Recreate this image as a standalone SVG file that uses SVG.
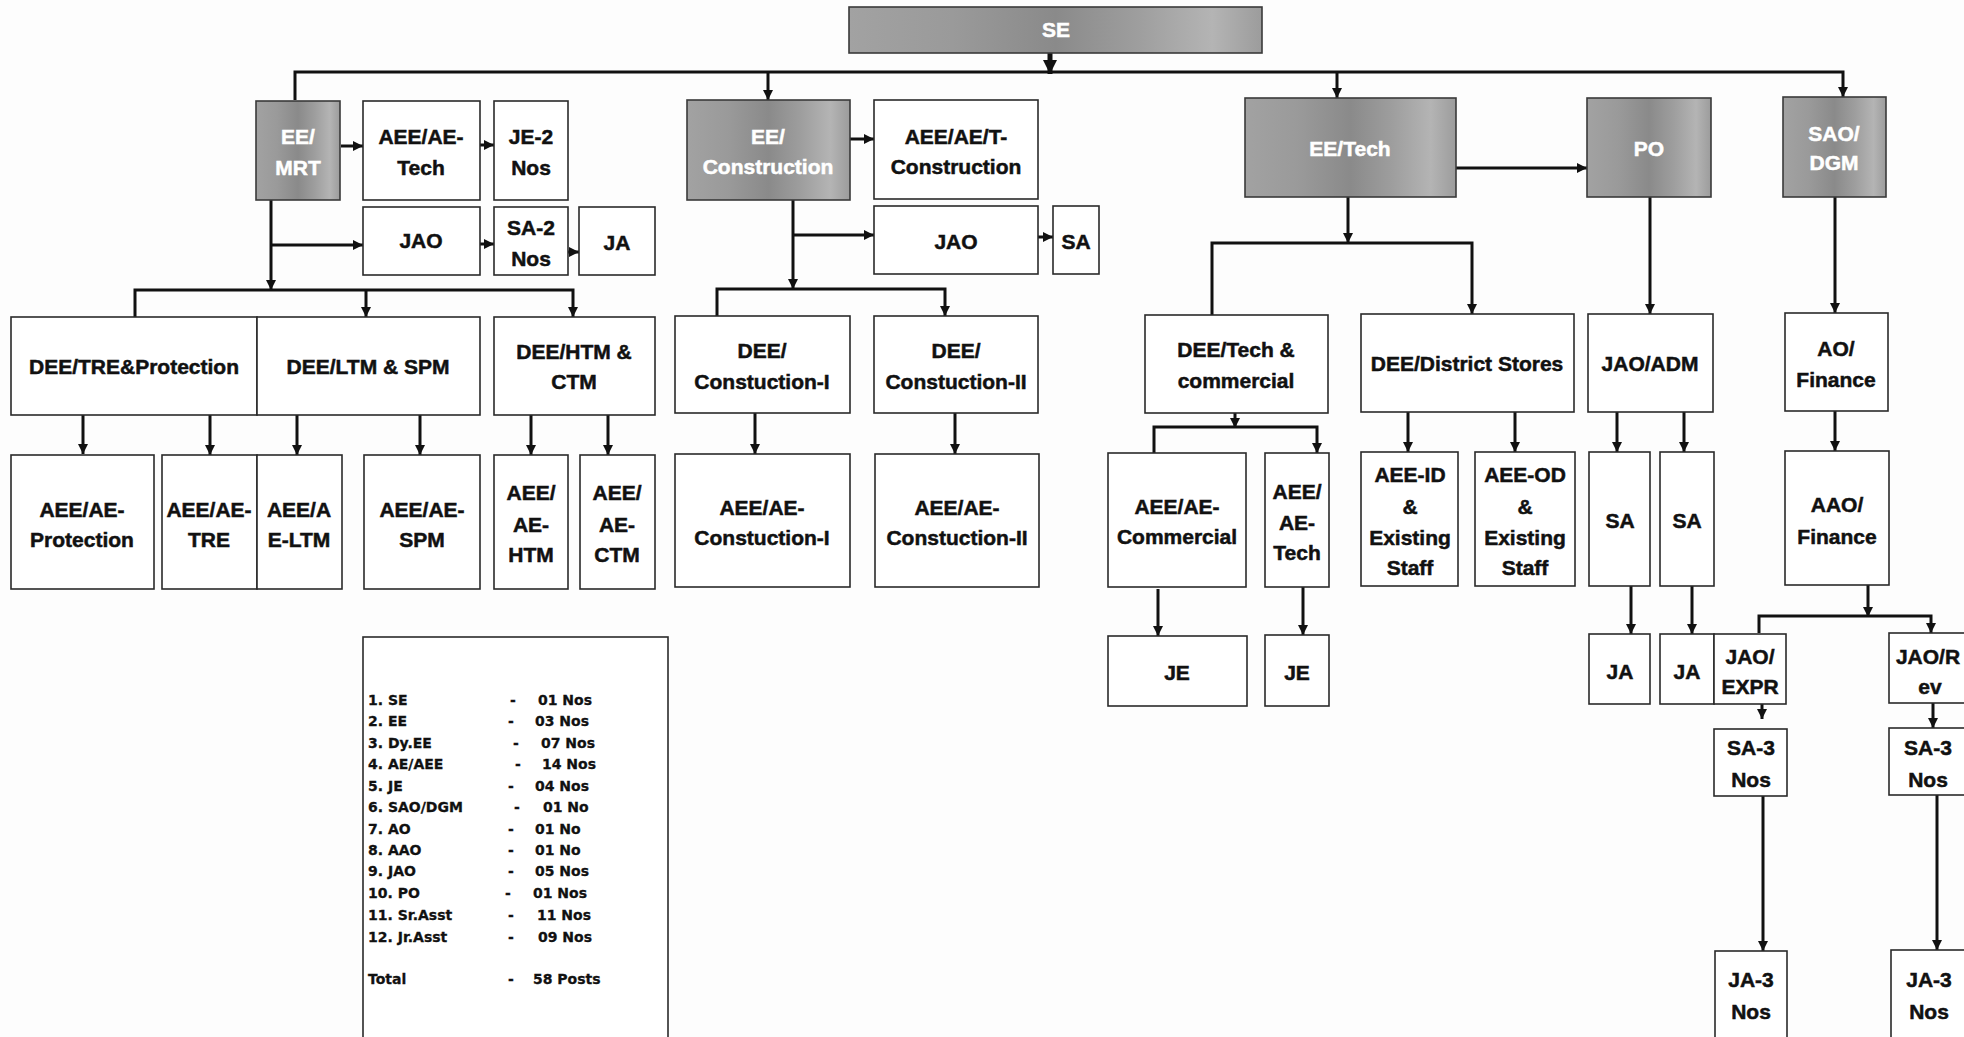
<svg xmlns="http://www.w3.org/2000/svg" width="1964" height="1037" viewBox="0 0 1964 1037">
<style>
.box{fill:#fff;stroke:#2a2a2a;stroke-width:1.6}
.gbox{fill:url(#gg);stroke:#3a3a3a;stroke-width:1.6}
.t{font-family:"Liberation Sans",Arial,sans-serif;font-weight:bold;font-size:21px;fill:#111;stroke:#111;stroke-width:0.5;text-anchor:middle}
.w{fill:#fff;stroke:#fff}
.c{fill:none;stroke:#111;stroke-width:3}
.a{marker-end:url(#ah)}
.lg{font-family:"DejaVu Sans",Verdana,sans-serif;font-weight:bold;font-size:14px;fill:#111;stroke:#111;stroke-width:0.3}
</style>
<defs>
<linearGradient id="gg" x1="0" x2="1" y1="0" y2="0">
<stop offset="0" stop-color="#a2a2a2"/>
<stop offset="0.25" stop-color="#9a9a9a"/>
<stop offset="0.5" stop-color="#8a8a8a"/>
<stop offset="0.7" stop-color="#9e9e9e"/>
<stop offset="0.88" stop-color="#b4b4b4"/>
<stop offset="1" stop-color="#9c9c9c"/>
</linearGradient>
<marker id="ah" viewBox="0 0 10 10" refX="10" refY="5" markerWidth="10" markerHeight="10" markerUnits="userSpaceOnUse" orient="auto"><path d="M0,0 L10,5 L0,10 z" fill="#111"/></marker>
<marker id="ahb" viewBox="0 0 10 10" refX="10" refY="5" markerWidth="14" markerHeight="15" markerUnits="userSpaceOnUse" orient="auto"><path d="M0,0 L10,5 L0,10 z" fill="#111"/></marker>
</defs>
<rect width="1964" height="1037" fill="#fdfdfd"/>

<g id="connectors">
<path class="c" d="M1050,53 L1050,74" style="stroke-width:5;marker-end:url(#ahb)"/>
<path class="c" d="M295,100 L295,72 L1843,72 L1843,97" style="marker-end:url(#ah)"/>
<path class="c a" d="M768,72 L768,100"/>
<path class="c a" d="M1337,72 L1337,98"/>
<path class="c a" d="M341,146 L363,146"/>
<path class="c a" d="M480,145 L494,145"/>
<path class="c a" d="M271,200 L271,290"/>
<path class="c a" d="M271,245 L363,245"/>
<path class="c a" d="M480,244 L494,244"/>
<path class="c a" d="M568,252 L579,252"/>
<path class="c a" d="M135,317 L135,290 L573,290 L573,317"/>
<path class="c a" d="M366,290 L366,317"/>
<path class="c a" d="M83,412 L83,454"/>
<path class="c a" d="M210,415 L210,455"/>
<path class="c a" d="M297,415 L297,455"/>
<path class="c a" d="M420,415 L420,455"/>
<path class="c a" d="M531,413 L531,455"/>
<path class="c a" d="M608,413 L608,455"/>
<path class="c a" d="M850,139 L874,139"/>
<path class="c a" d="M793,200 L793,289"/>
<path class="c a" d="M793,235 L874,235"/>
<path class="c a" d="M1038,237 L1053,237"/>
<path class="c a" d="M717,316 L717,289 L945,289 L945,316"/>
<path class="c a" d="M755,413 L755,454"/>
<path class="c a" d="M955,413 L955,454"/>
<path class="c a" d="M1456,168 L1587,168"/>
<path class="c a" d="M1348,197 L1348,243"/>
<path class="c a" d="M1212,315 L1212,243 L1472,243 L1472,314"/>
<path class="c a" d="M1235,413 L1235,428"/>
<path class="c a" d="M1154,453 L1154,427 L1317,427 L1317,453"/>
<path class="c a" d="M1408,412 L1408,452"/>
<path class="c a" d="M1515,412 L1515,452"/>
<path class="c a" d="M1650,197 L1650,314"/>
<path class="c a" d="M1617,412 L1617,452"/>
<path class="c a" d="M1684,412 L1684,452"/>
<path class="c a" d="M1835,197 L1835,313"/>
<path class="c a" d="M1835,411 L1835,451"/>
<path class="c a" d="M1158,589 L1158,636"/>
<path class="c a" d="M1303,587 L1303,635"/>
<path class="c a" d="M1631,586 L1631,634"/>
<path class="c a" d="M1692,586 L1692,634"/>
<path class="c a" d="M1868,585 L1868,617"/>
<path class="c a" d="M1759,633 L1759,616 L1931,616 L1931,633"/>
<path class="c a" d="M1762,704 L1762,719"/>
<path class="c a" d="M1763,796 L1763,951"/>
<path class="c a" d="M1933,703 L1933,728"/>
<path class="c a" d="M1937,795 L1937,950"/>
</g>

<g id="n-se"><rect class="gbox" x="849" y="7" width="413" height="46"/><text class="t w" x="1056" y="37">SE</text></g>
<g id="n-ee-mrt"><rect class="gbox" x="256" y="101" width="84" height="99"/><text class="t w" x="298" y="144">EE/</text><text class="t w" x="298" y="175">MRT</text></g>
<g id="n-aee-tech-mrt"><rect class="box" x="363" y="101" width="117" height="99"/><text class="t" x="421" y="144">AEE/AE-</text><text class="t" x="421" y="175">Tech</text></g>
<g id="n-je2"><rect class="box" x="494" y="101" width="74" height="99"/><text class="t" x="531" y="144">JE-2</text><text class="t" x="531" y="175">Nos</text></g>
<g id="n-jao-mrt"><rect class="box" x="363" y="207" width="117" height="68"/><text class="t" x="421" y="248">JAO</text></g>
<g id="n-sa2"><rect class="box" x="494" y="207" width="74" height="68"/><text class="t" x="531" y="235">SA-2</text><text class="t" x="531" y="266">Nos</text></g>
<g id="n-ja-mrt"><rect class="box" x="579" y="207" width="76" height="68"/><text class="t" x="617" y="250">JA</text></g>

<g id="n-ee-con"><rect class="gbox" x="687" y="100" width="163" height="100"/><text class="t w" x="768" y="144">EE/</text><text class="t w" x="768" y="174">Construction</text></g>
<g id="n-aee-t-con"><rect class="box" x="874" y="100" width="164" height="99"/><text class="t" x="956" y="144">AEE/AE/T-</text><text class="t" x="956" y="174">Construction</text></g>
<g id="n-jao-con"><rect class="box" x="874" y="206" width="164" height="68"/><text class="t" x="956" y="249">JAO</text></g>
<g id="n-sa-con"><rect class="box" x="1053" y="206" width="46" height="68"/><text class="t" x="1076" y="249">SA</text></g>

<g id="n-ee-tech"><rect class="gbox" x="1245" y="98" width="211" height="99"/><text class="t w" x="1350" y="156">EE/Tech</text></g>
<g id="n-po"><rect class="gbox" x="1587" y="98" width="124" height="99"/><text class="t w" x="1649" y="156">PO</text></g>
<g id="n-sao"><rect class="gbox" x="1783" y="97" width="103" height="100"/><text class="t w" x="1834" y="141">SAO/</text><text class="t w" x="1834" y="170">DGM</text></g>

<g id="n-dee-tre"><rect class="box" x="11" y="317" width="246" height="98"/><text class="t" x="134" y="374">DEE/TRE&amp;Protection</text></g>
<g id="n-dee-ltm"><rect class="box" x="257" y="317" width="223" height="98"/><text class="t" x="368" y="374">DEE/LTM &amp; SPM</text></g>
<g id="n-dee-htm"><rect class="box" x="494" y="317" width="161" height="98"/><text class="t" x="574" y="359">DEE/HTM &amp;</text><text class="t" x="574" y="389">CTM</text></g>
<g id="n-dee-con1"><rect class="box" x="675" y="316" width="175" height="97"/><text class="t" x="762" y="358">DEE/</text><text class="t" x="762" y="389">Constuction-I</text></g>
<g id="n-dee-con2"><rect class="box" x="874" y="316" width="164" height="97"/><text class="t" x="956" y="358">DEE/</text><text class="t" x="956" y="389">Constuction-II</text></g>
<g id="n-dee-techcom"><rect class="box" x="1145" y="315" width="183" height="98"/><text class="t" x="1236" y="357">DEE/Tech &amp;</text><text class="t" x="1236" y="388">commercial</text></g>
<g id="n-dee-stores"><rect class="box" x="1361" y="314" width="213" height="98"/><text class="t" x="1467" y="371">DEE/District Stores</text></g>
<g id="n-jao-adm"><rect class="box" x="1588" y="314" width="125" height="98"/><text class="t" x="1650" y="371">JAO/ADM</text></g>
<g id="n-ao"><rect class="box" x="1785" y="313" width="103" height="98"/><text class="t" x="1836" y="356">AO/</text><text class="t" x="1836" y="387">Finance</text></g>

<g id="n-aee-prot"><rect class="box" x="11" y="455" width="143" height="134"/><text class="t" x="82" y="517">AEE/AE-</text><text class="t" x="82" y="547">Protection</text></g>
<g id="n-aee-tre"><rect class="box" x="162" y="455" width="95" height="134"/><text class="t" x="209" y="517">AEE/AE-</text><text class="t" x="209" y="547">TRE</text></g>
<g id="n-aee-ltm"><rect class="box" x="257" y="455" width="85" height="134"/><text class="t" x="299" y="517">AEE/A</text><text class="t" x="299" y="547">E-LTM</text></g>
<g id="n-aee-spm"><rect class="box" x="364" y="455" width="116" height="134"/><text class="t" x="422" y="517">AEE/AE-</text><text class="t" x="422" y="547">SPM</text></g>
<g id="n-aee-htm"><rect class="box" x="494" y="455" width="74" height="134"/><text class="t" x="531" y="500">AEE/</text><text class="t" x="531" y="532">AE-</text><text class="t" x="531" y="562">HTM</text></g>
<g id="n-aee-ctm"><rect class="box" x="580" y="455" width="75" height="134"/><text class="t" x="617" y="500">AEE/</text><text class="t" x="617" y="532">AE-</text><text class="t" x="617" y="562">CTM</text></g>
<g id="n-aee-con1"><rect class="box" x="675" y="454" width="175" height="133"/><text class="t" x="762" y="515">AEE/AE-</text><text class="t" x="762" y="545">Constuction-I</text></g>
<g id="n-aee-con2"><rect class="box" x="875" y="454" width="164" height="133"/><text class="t" x="957" y="515">AEE/AE-</text><text class="t" x="957" y="545">Constuction-II</text></g>
<g id="n-aee-com"><rect class="box" x="1108" y="453" width="138" height="134"/><text class="t" x="1177" y="514">AEE/AE-</text><text class="t" x="1177" y="544">Commercial</text></g>
<g id="n-aee-tech2"><rect class="box" x="1265" y="453" width="64" height="134"/><text class="t" x="1297" y="499">AEE/</text><text class="t" x="1297" y="530">AE-</text><text class="t" x="1297" y="560">Tech</text></g>
<g id="n-aee-id"><rect class="box" x="1361" y="452" width="97" height="134"/><text class="t" x="1410" y="482">AEE-ID</text><text class="t" x="1410" y="514">&amp;</text><text class="t" x="1410" y="545">Existing</text><text class="t" x="1410" y="575">Staff</text></g>
<g id="n-aee-od"><rect class="box" x="1475" y="452" width="100" height="134"/><text class="t" x="1525" y="482">AEE-OD</text><text class="t" x="1525" y="514">&amp;</text><text class="t" x="1525" y="545">Existing</text><text class="t" x="1525" y="575">Staff</text></g>
<g id="n-sa1"><rect class="box" x="1589" y="452" width="61" height="134"/><text class="t" x="1620" y="528">SA</text></g>
<g id="n-sa2b"><rect class="box" x="1660" y="452" width="54" height="134"/><text class="t" x="1687" y="528">SA</text></g>
<g id="n-aao"><rect class="box" x="1785" y="451" width="104" height="134"/><text class="t" x="1837" y="512">AAO/</text><text class="t" x="1837" y="544">Finance</text></g>

<g id="n-je-a"><rect class="box" x="1108" y="636" width="139" height="70"/><text class="t" x="1177" y="680">JE</text></g>
<g id="n-je-b"><rect class="box" x="1265" y="635" width="64" height="71"/><text class="t" x="1297" y="680">JE</text></g>
<g id="n-ja-a"><rect class="box" x="1589" y="634" width="61" height="70"/><text class="t" x="1620" y="679">JA</text></g>
<g id="n-ja-b"><rect class="box" x="1660" y="634" width="54" height="70"/><text class="t" x="1687" y="679">JA</text></g>
<g id="n-jao-expr"><rect class="box" x="1714" y="634" width="72" height="70"/><text class="t" x="1750" y="664">JAO/</text><text class="t" x="1750" y="694">EXPR</text></g>
<g id="n-jao-rev"><rect class="box" x="1889" y="633" width="80" height="70"/><text class="t" x="1928" y="664">JAO/R</text><text class="t" x="1930" y="694">ev</text></g>
<g id="n-sa3-a"><rect class="box" x="1714" y="729" width="73" height="67"/><text class="t" x="1751" y="755">SA-3</text><text class="t" x="1751" y="787">Nos</text></g>
<g id="n-sa3-b"><rect class="box" x="1889" y="728" width="80" height="67"/><text class="t" x="1928" y="755">SA-3</text><text class="t" x="1928" y="787">Nos</text></g>
<g id="n-ja3-a"><rect class="box" x="1715" y="951" width="72" height="95"/><text class="t" x="1751" y="987">JA-3</text><text class="t" x="1751" y="1019">Nos</text></g>
<g id="n-ja3-b"><rect class="box" x="1891" y="950" width="80" height="95"/><text class="t" x="1929" y="987">JA-3</text><text class="t" x="1929" y="1019">Nos</text></g>

<g id="legend">
<rect class="box" x="363" y="637" width="305" height="420"/>
<text class="lg" x="368" y="705">1. SE</text><text class="lg" x="510" y="705">-</text><text class="lg" x="538" y="705">01 Nos</text>
<text class="lg" x="368" y="726">2. EE</text><text class="lg" x="508" y="726">-</text><text class="lg" x="535" y="726">03 Nos</text>
<text class="lg" x="368" y="748">3. Dy.EE</text><text class="lg" x="513" y="748">-</text><text class="lg" x="541" y="748">07 Nos</text>
<text class="lg" x="368" y="769">4. AE/AEE</text><text class="lg" x="515" y="769">-</text><text class="lg" x="542" y="769">14 Nos</text>
<text class="lg" x="368" y="791">5. JE</text><text class="lg" x="508" y="791">-</text><text class="lg" x="535" y="791">04 Nos</text>
<text class="lg" x="368" y="812">6. SAO/DGM</text><text class="lg" x="514" y="812">-</text><text class="lg" x="543" y="812">01 No</text>
<text class="lg" x="368" y="834">7. AO</text><text class="lg" x="508" y="834">-</text><text class="lg" x="535" y="834">01 No</text>
<text class="lg" x="368" y="855">8. AAO</text><text class="lg" x="508" y="855">-</text><text class="lg" x="535" y="855">01 No</text>
<text class="lg" x="368" y="876">9. JAO</text><text class="lg" x="508" y="876">-</text><text class="lg" x="535" y="876">05 Nos</text>
<text class="lg" x="368" y="898">10. PO</text><text class="lg" x="505" y="898">-</text><text class="lg" x="533" y="898">01 Nos</text>
<text class="lg" x="368" y="920">11. Sr.Asst</text><text class="lg" x="508" y="920">-</text><text class="lg" x="537" y="920">11 Nos</text>
<text class="lg" x="368" y="942">12. Jr.Asst</text><text class="lg" x="508" y="942">-</text><text class="lg" x="538" y="942">09 Nos</text>
<text class="lg" x="368" y="984">Total</text><text class="lg" x="508" y="984">-</text><text class="lg" x="533" y="984">58 Posts</text>
</g>
</svg>
